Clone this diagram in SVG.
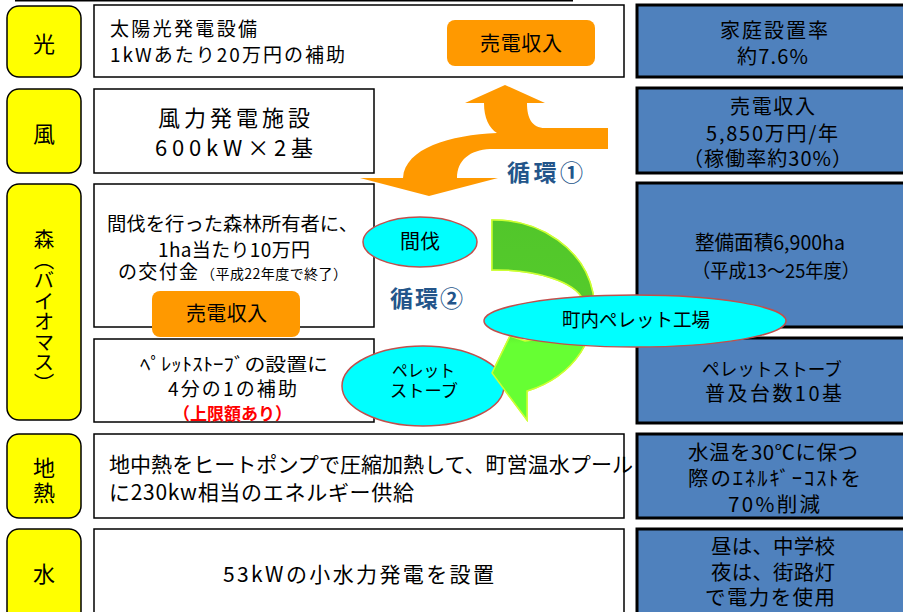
<svg xmlns="http://www.w3.org/2000/svg" width="903" height="612" viewBox="0 0 903 612">
<defs>
<style>
text{font-family:"Noto Sans CJK JP","Noto Sans",sans-serif;fill:#000}
.cat{fill:#FFFF00;stroke:#000;stroke-width:1.5}
.wb{fill:#fff;stroke:#000;stroke-width:1.5}
.bb{fill:#4F81BD;stroke:#000;stroke-width:3}
.ob{fill:#FF9900}
.el{fill:#00FFFF;stroke:#C0504D;stroke-width:1.5}
.lab{font-size:22px;text-anchor:middle}
.cyc{font-size:23px;font-weight:bold;fill:#23558A}
</style>
<linearGradient id="gg" x1="0" y1="0" x2="0" y2="1">
<stop offset="0" stop-color="#52C62B"/>
<stop offset="0.48" stop-color="#55CC2B"/>
<stop offset="0.62" stop-color="#66FF33"/>
<stop offset="1" stop-color="#66FF33"/>
</linearGradient>
</defs>
<rect width="903" height="612" fill="#fff"/>
<line x1="15" y1="0.5" x2="573" y2="0.5" stroke="#000" stroke-width="2"/>

<!-- category labels -->
<g id="cat-hikari"><rect class="cat" x="7" y="6" width="74" height="71" rx="12"/><text class="lab" x="44" y="52">光</text></g>
<g id="cat-kaze"><rect class="cat" x="7" y="89" width="74" height="84" rx="12"/><text class="lab" x="44" y="142">風</text></g>
<g id="cat-mori"><rect class="cat" x="7" y="184" width="74" height="236" rx="12"/><text x="44" y="229" style="writing-mode:vertical-rl;font-size:20.5px">森（バイオマス）</text></g>
<g id="cat-chinetsu"><rect class="cat" x="7" y="434" width="74" height="84" rx="12"/><text class="lab" x="44" y="476" font-size="21">地</text><text class="lab" x="44" y="501" font-size="21">熱</text></g>
<g id="cat-mizu"><rect class="cat" x="7" y="529" width="74" height="95" rx="12"/><text class="lab" x="44" y="582">水</text></g>

<!-- middle boxes -->
<g id="box-hikari"><rect class="wb" x="94" y="5" width="530" height="72"/>
<text x="110" y="36" font-size="19" textLength="147">太陽光発電設備</text>
<text x="110" y="62" font-size="19" textLength="235">1kWあたり20万円の補助</text></g>
<g id="box-kaze"><rect class="wb" x="94" y="89" width="280" height="84"/>
<text x="158" y="126" font-size="22" textLength="152">風力発電施設</text>
<text x="155" y="156" font-size="22" textLength="158">600kW×2基</text></g>
<g id="box-mori1"><rect class="wb" x="94" y="184" width="280" height="143"/>
<text x="107" y="231" font-size="19" textLength="251" lengthAdjust="spacingAndGlyphs">間伐を行った森林所有者に、</text>
<text x="158" y="257" font-size="19" textLength="152">1ha当たり10万円</text>
<text x="118" y="279" font-size="19" textLength="80">の交付金</text>
<text x="201" y="279" font-size="14" textLength="146">（平成22年度で終了）</text></g>
<g id="box-mori2"><rect class="wb" x="94" y="339" width="280" height="83"/>
<text x="140" y="371" font-size="18.5" textLength="188" lengthAdjust="spacingAndGlyphs">ﾍﾟﾚｯﾄｽﾄｰﾌﾞの設置に</text>
<text x="168" y="396" font-size="19" textLength="129">4分の1の補助</text>
<text x="173" y="420" font-size="17" font-weight="bold" textLength="119" style="fill:#FF0000">（上限額あり）</text></g>
<g id="box-chinetsu"><rect class="wb" x="94" y="434" width="530" height="84"/>
<text x="109" y="472" font-size="21" textLength="524" lengthAdjust="spacingAndGlyphs">地中熱をヒートポンプで圧縮加熱して、町営温水プール</text>
<text x="109" y="500" font-size="21" textLength="305">に230kw相当のエネルギー供給</text></g>
<g id="box-mizu"><rect class="wb" x="94" y="529" width="530" height="95"/>
<text x="223" y="582" font-size="21" textLength="271">53kWの小水力発電を設置</text></g>

<!-- right result boxes -->
<g id="res-hikari"><rect class="bb" x="637" y="5" width="275" height="72"/>
<text x="720" y="38" font-size="20" textLength="108">家庭設置率</text>
<text x="737" y="64" font-size="20" textLength="71">約7.6%</text></g>
<g id="res-kaze"><rect class="bb" x="637" y="88" width="275" height="85"/>
<text x="730" y="114" font-size="20" textLength="85">売電収入</text>
<text x="706" y="141" font-size="20" textLength="132">5,850万円/年</text>
<text x="683" y="166" font-size="20" textLength="169">（稼働率約30%）</text></g>
<g id="res-mori1"><rect class="bb" x="637" y="183" width="275" height="144"/>
<text x="695" y="250" font-size="20" textLength="150" lengthAdjust="spacingAndGlyphs">整備面積6,900ha</text>
<text x="692" y="278" font-size="19" textLength="168" lengthAdjust="spacingAndGlyphs">（平成13～25年度）</text></g>
<g id="res-mori2"><rect class="bb" x="637" y="338" width="275" height="85"/>
<text x="702" y="376" font-size="18.5" textLength="140" lengthAdjust="spacingAndGlyphs">ペレットストーブ</text>
<text x="705" y="401" font-size="20" textLength="137">普及台数10基</text></g>
<g id="res-chinetsu"><rect class="bb" x="637" y="434" width="275" height="84"/>
<text x="688" y="460" font-size="20.5" textLength="170">水温を30℃に保つ</text>
<text x="688" y="486" font-size="20.5" textLength="173">際のｴﾈﾙｷﾞｰｺｽﾄを</text>
<text x="728" y="512" font-size="20.5" textLength="92">70%削減</text></g>
<g id="res-mizu"><rect class="bb" x="637" y="529" width="275" height="95"/>
<text x="711" y="554" font-size="20.5" textLength="124">昼は、中学校</text>
<text x="711" y="580" font-size="20.5" textLength="124">夜は、街路灯</text>
<text x="705" y="605" font-size="20.5" textLength="130">で電力を使用</text></g>

<!-- cycle arrows -->
<g id="connectors">
<path id="cycle1-arrow" fill="#FF9900" d="M608,128 L545,128 C532,128 527,118 527,103 L545,103 L505,85 L465,103 L484,103 C484,118 489,128 497,133 C450,135 405,148 403,178 L360,178 L429,196 L498,178 L457,178 C457,160 470,150 490,149 L608,149 Z"/>
<path id="cycle2-arrow" fill="url(#gg)" stroke="#CCFF33" stroke-width="1.5" d="M492,220 A101,88 0 0 1 527,391 L527,420 L492,373 L510,336 L525,341 A88,36.5 0 0 0 492,270 Z"/>
</g>

<g id="sell-top"><rect class="ob" x="447" y="20" width="148" height="46" rx="8"/>
<text x="480" y="51" font-size="20" textLength="82">売電収入</text></g>
<text class="cyc" x="507" y="181" textLength="76">循環①</text>
<text class="cyc" x="390" y="307" textLength="73">循環②</text>

<g id="node-kanbatsu"><ellipse class="el" cx="420" cy="242" rx="57" ry="25"/>
<text x="400" y="249" font-size="20" textLength="40" lengthAdjust="spacingAndGlyphs">間伐</text></g>
<g id="node-stove"><ellipse class="el" cx="423" cy="386" rx="81" ry="40"/>
<text x="392" y="377" font-size="17" textLength="63" lengthAdjust="spacingAndGlyphs">ペレット</text>
<text x="390" y="397" font-size="17" textLength="68" lengthAdjust="spacingAndGlyphs">ストーブ</text></g>
<use href="#cycle2-arrow"/>
<g id="node-factory"><ellipse class="el" cx="635" cy="321" rx="151" ry="26"/>
<text x="562" y="327" font-size="19" textLength="148" lengthAdjust="spacingAndGlyphs">町内ペレット工場</text></g>
<g id="sell-mid"><rect class="ob" x="152" y="291" width="148" height="46" rx="8"/>
<text x="186" y="321" font-size="20" textLength="81">売電収入</text></g>
</svg>
